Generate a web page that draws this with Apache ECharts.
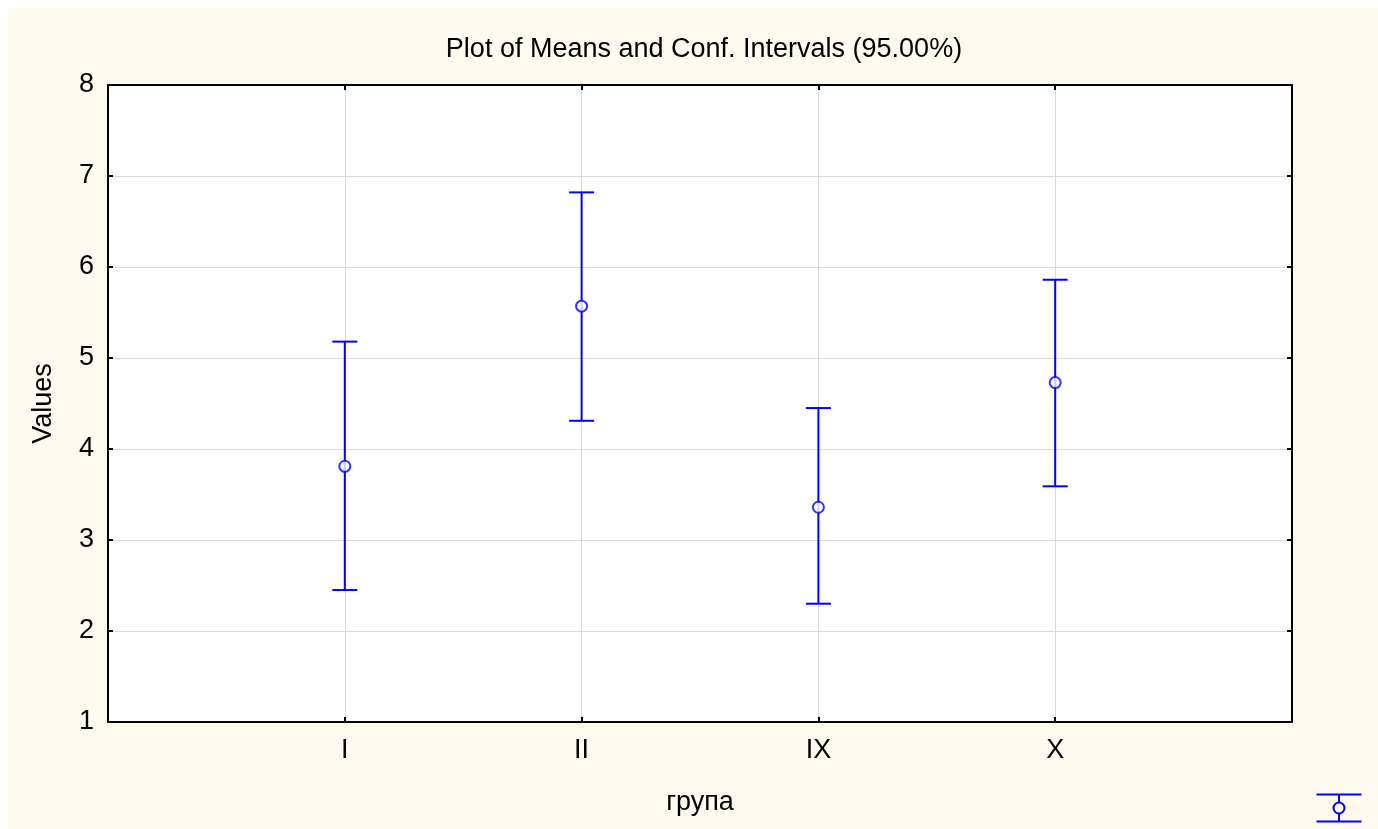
<!DOCTYPE html>
<html>
<head>
<meta charset="utf-8">
<script src="https://cdn.jsdelivr.net/npm/echarts@6/dist/echarts.min.js"></script>
<style>
  html, body { margin: 0; padding: 0; background: #ffffff; }
  #frame { position: absolute; left: 8px; top: 8px; width: 1370px; height: 821px; background: #fefaf0; }
  #chart { position: absolute; left: -8px; top: -8px; width: 1378px; height: 829px; }
</style>
</head>
<body>
<div id="frame"><div id="chart"></div></div>
<script>
// Group means with 95% confidence limits
const groups = ['I', 'II', 'IX', 'X'];
const means = [3.81, 5.57, 3.36, 4.73];
const lower = [2.45, 4.31, 2.30, 3.59];
const upper = [5.18, 6.82, 4.45, 5.86];
const yTicks = [1, 2, 3, 4, 5, 6, 7, 8];

const blue = '#0000ff';
const font = 'Liberation Sans, Arial, sans-serif';
const gridColor = '#d9d9d9';

const meanData = groups.map((g, i) => [i + 1, means[i]]);
const barData = groups.map((g, i) => [i + 1, lower[i], upper[i]]);

const xMin = 0, xMax = groups.length + 1;
const yMin = yTicks[0], yMax = yTicks[yTicks.length - 1];

const chart = echarts.init(document.getElementById('chart'), null, { renderer: 'canvas' });

const tickStyle = { show: true, inside: true, length: 5, lineStyle: { color: '#000', width: 2 } };
const frameLine = { show: true, onZero: false, lineStyle: { color: '#000', width: 2 } };
const hidden = { show: false };

chart.setOption({
  backgroundColor: 'transparent',
  animation: false,
  title: {
    text: 'Plot of Means and Conf. Intervals (95.00%)',
    left: 699, top: 31, textAlign: 'center',
    textStyle: { fontFamily: font, fontSize: 27, fontWeight: 'normal', color: '#000' }
  },
  grid: { left: 108, right: 86, top: 85, bottom: 107, backgroundColor: '#ffffff', show: true, borderWidth: 0 },
  xAxis: [{
    // bottom frame edge, tick labels and axis name
    type: 'value', min: xMin, max: xMax, interval: 1, z: 5,
    name: 'група', nameLocation: 'middle', nameGap: 67,
    nameTextStyle: { fontFamily: font, fontSize: 27, color: '#000' },
    axisLine: frameLine,
    axisTick: tickStyle,
    axisLabel: {
      fontFamily: font, fontSize: 27, color: '#000', margin: 15,
      formatter: v => (v >= 1 && v <= groups.length) ? groups[v - 1] : ''
    },
    splitLine: hidden
  }, {
    // top frame edge
    type: 'value', position: 'top', min: xMin, max: xMax, interval: 1, z: 5,
    axisLine: frameLine, axisTick: tickStyle, axisLabel: hidden, splitLine: hidden
  }, {
    // vertical grid lines, kept beneath the frame
    type: 'value', position: 'bottom', min: xMin, max: xMax, interval: 1, z: 1,
    axisLine: hidden, axisTick: hidden, axisLabel: hidden,
    splitLine: { show: true, lineStyle: { color: gridColor, width: 1 } }
  }],
  yAxis: [{
    type: 'value', position: 'left', min: yMin, max: yMax, interval: 1, z: 5,
    name: 'Values', nameLocation: 'middle', nameGap: 51, nameRotate: 90,
    nameTextStyle: { fontFamily: font, fontSize: 27, color: '#000' },
    axisLine: frameLine,
    axisTick: tickStyle,
    axisLabel: { fontFamily: font, fontSize: 27, color: '#000', margin: 14 },
    splitLine: hidden
  }, {
    // right frame edge
    type: 'value', position: 'right', min: yMin, max: yMax, interval: 1, z: 5,
    axisLine: frameLine, axisTick: tickStyle, axisLabel: hidden, splitLine: hidden
  }, {
    // horizontal grid lines
    type: 'value', position: 'left', min: yMin, max: yMax, interval: 1, z: 1,
    axisLine: hidden, axisTick: hidden, axisLabel: hidden,
    splitLine: { show: true, lineStyle: { color: gridColor, width: 1 } }
  }],
  series: [{
    type: 'custom',
    name: 'ci',
    data: barData,
    encode: { x: 0, y: [1, 2] },
    z: 3,
    renderItem: function (params, api) {
      const x = api.value(0);
      const lo = api.coord([x, api.value(1)]);
      const hi = api.coord([x, api.value(2)]);
      const half = 12.5;
      const style = { stroke: blue, lineWidth: 2, fill: null };
      return {
        type: 'group',
        children: [
          { type: 'line', shape: { x1: lo[0], y1: lo[1], x2: hi[0], y2: hi[1] }, style },
          { type: 'line', shape: { x1: lo[0] - half, y1: lo[1], x2: lo[0] + half, y2: lo[1] }, style },
          { type: 'line', shape: { x1: hi[0] - half, y1: hi[1], x2: hi[0] + half, y2: hi[1] }, style }
        ]
      };
    }
  }, {
    type: 'scatter',
    data: meanData,
    symbol: 'circle',
    symbolSize: 11,
    z: 4,
    itemStyle: { color: '#ffffff', borderColor: blue, borderWidth: 2 }
  }],
  graphic: [{
    // legend key: mean with confidence interval
    type: 'group', left: 1314, top: 792,
    children: [
      { type: 'line', shape: { x1: 0, y1: 1, x2: 45, y2: 1 }, style: { stroke: blue, lineWidth: 2 } },
      { type: 'line', shape: { x1: 0, y1: 28, x2: 45, y2: 28 }, style: { stroke: blue, lineWidth: 2 } },
      { type: 'line', shape: { x1: 22.5, y1: 1, x2: 22.5, y2: 28 }, style: { stroke: blue, lineWidth: 2 } },
      { type: 'circle', shape: { cx: 22.5, cy: 14.5, r: 5.5 }, style: { stroke: blue, lineWidth: 2, fill: '#fefaf0' } }
    ]
  }]
});
</script>
</body>
</html>
